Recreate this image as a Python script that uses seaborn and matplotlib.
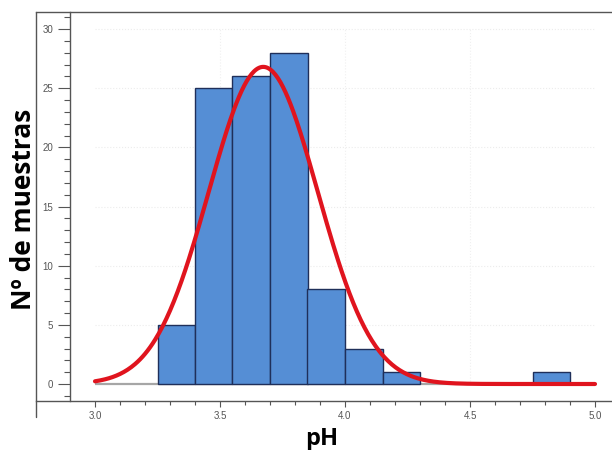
import numpy as np
import pandas as pd
import matplotlib
matplotlib.use("Agg")
import matplotlib.pyplot as plt
from matplotlib.ticker import MultipleLocator, FixedLocator, FormatStrFormatter
from matplotlib.lines import Line2D
import seaborn as sns

# ---- data ----
bin_edges = [3.25, 3.40, 3.55, 3.70, 3.85, 4.00, 4.15, 4.30, 4.45, 4.60, 4.75, 4.90]
bin_counts = [5, 25, 26, 28, 8, 3, 1, 0, 0, 0, 1]
curve_mean = 3.673
curve_sd = 0.218
curve_peak = 26.8
curve_range = [3.0, 5.0]
x_ticks = [3.0, 3.5, 4.0, 4.5, 5.0]
x_minor = [3.1, 3.2, 3.3, 3.4, 3.6, 3.7, 3.8, 3.9, 4.1, 4.2, 4.3, 4.4, 4.6, 4.7, 4.8, 4.9]
y_ticks = [0, 5, 10, 15, 20, 25, 30]
x_label = "pH"
y_label = "Nº de muestras"

sns.set_theme(style="white")
plt.rcParams['font.family'] = ['Liberation Sans', 'DejaVu Sans']

fig = plt.figure(figsize=(6.12, 4.5), dpi=100)
ax = fig.add_axes([36/612, 1 - 401/450, 1 - 36/612, (401 - 12)/450])

centers = [(a + b) / 2 for a, b in zip(bin_edges[:-1], bin_edges[1:])]
df = pd.DataFrame({"pH": centers, "n": bin_counts})

# baseline
ax.hlines(0, curve_range[0], curve_range[1], color="#a6a6a6", lw=1.6, zorder=1)

sns.histplot(data=df, x="pH", weights="n", bins=bin_edges, ax=ax,
             color="#558ED5", edgecolor="#1F2F5A", linewidth=1.0, alpha=1.0, zorder=2)
for p in ax.patches:
    if p.get_height() == 0:
        p.set_visible(False)

xs = np.linspace(curve_range[0], curve_range[1], 400)
ys = curve_peak * np.exp(-0.5 * ((xs - curve_mean) / curve_sd) ** 2)
sns.lineplot(x=xs, y=ys, ax=ax, color="#E0141E", lw=3.0, zorder=3)

ax.set_xlim(3 + (36 - 95) / 250, 3 + (612 - 95) / 250)
ax.set_ylim((384 - 401) / 11.833, (384 - 12) / 11.833)

# faint grid
for yv in y_ticks[1:]:
    ax.hlines(yv, 3.0, 5.0, color="#ececec", lw=0.8, ls=":", zorder=0)
for xv in x_ticks[1:-1]:
    ax.vlines(xv, 0, 30, color="#f0f0f0", lw=0.8, ls=":", zorder=0)

# spines
ax.spines['right'].set_visible(False)
for s in ['top', 'left', 'bottom']:
    ax.spines[s].set_color("#555555")
    ax.spines[s].set_linewidth(1.0)
ax.spines['left'].set_position(('data', 2.9))
ax.add_line(Line2D([0, 0], [-0.041, 1], transform=ax.transAxes, color="#555555",
                   lw=1.0, clip_on=False))

ax.xaxis.set_major_locator(FixedLocator(x_ticks))
ax.xaxis.set_minor_locator(FixedLocator(x_minor))
ax.xaxis.set_major_formatter(FormatStrFormatter('%.1f'))
ax.yaxis.set_major_locator(FixedLocator(y_ticks))
ax.yaxis.set_minor_locator(MultipleLocator(1))
ax.tick_params(axis='x', which='major', direction='out', length=4, width=0.8,
               color="#555555", labelsize=7, labelcolor="#555555", pad=3, bottom=True)
ax.tick_params(axis='x', which='minor', direction='out', length=3, width=0.8,
               color="#555555", bottom=True)
ax.tick_params(axis='y', which='major', direction='out', length=9, width=0.8,
               color="#555555", labelsize=7, labelcolor="#555555", pad=3, left=True)
ax.tick_params(axis='y', which='minor', direction='out', length=4, width=0.8,
               color="#555555", left=True)

ax.set_xlabel("")
ax.set_ylabel("")
fig.text(322/612, 1 - 439/450, x_label, ha="center", va="center", color="black",
         fontsize=17, fontweight="bold", family=['Open Sans', 'DejaVu Sans'])
fig.text(24/612, 1 - 209/450, y_label, ha="center", va="center", rotation=90,
         color="black", fontsize=19, fontweight="bold", family=['Open Sans', 'DejaVu Sans'])

fig.savefig("out.png", dpi=100)
